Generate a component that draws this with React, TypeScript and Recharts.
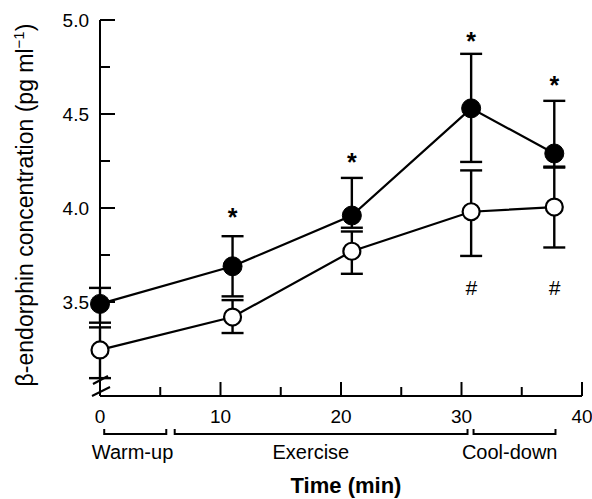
import React from "react";
import {
  ComposedChart,
  Line,
  XAxis,
  YAxis,
  ErrorBar,
  Scatter,
  Customized,
} from "recharts";

// sampling times (min) and the two groups
const times = [0, 11, 20.9, 30.8, 37.7];
const filledMean = [3.49, 3.69, 3.96, 4.53, 4.29];
const filledErr: [number, number][] = [
  [0.1, 0.085],
  [0.16, 0.16],
  [0.065, 0.2],
  [0.285, 0.29],
  [0.07, 0.28],
];
const openMean = [3.245, 3.42, 3.77, 3.98, 4.005];
const openErr: [number, number][] = [
  [0.15, 0.12],
  [0.085, 0.09],
  [0.12, 0.105],
  [0.235, 0.22],
  [0.215, 0.21],
];

// significance marks
const starTimes = [11, 20.9, 30.8, 37.7];
const starLevels = [3.98, 4.27, 4.915, 4.68];
const hashTimes = [30.8, 37.7];
const hashLevels = [3.58, 3.58];

const xTicks = [0, 5, 10, 15, 20, 25, 30, 35, 40];
const yTicks = [3.5, 3.75, 4.0, 4.25, 4.5, 4.75, 5.0];

const phases = [
  { label: "Warm-up", from: 0.35, to: 5.5, mid: 2.7 },
  { label: "Exercise", from: 6.2, to: 30.5, mid: 17.5 },
  { label: "Cool-down", from: 31.0, to: 37.8, mid: 34.0 },
];

const data = times.map((t, i) => ({
  t,
  filled: filledMean[i],
  filledErr: filledErr[i],
  open: openMean[i],
  openErr: openErr[i],
}));
const stars = starTimes.map((t, i) => ({ t, v: starLevels[i] }));
const hashes = hashTimes.map((t, i) => ({ t, v: hashLevels[i] }));

const W = 592;
const H = 499;
const LEFT = 100;
const RIGHT = 582;
const TOP = 20;
const BOTTOM = 396;
const FONT = "'Liberation Sans', Arial, Helvetica, sans-serif";

const xPx = (v: number) => LEFT + (v / 40) * (RIGHT - LEFT);

const XTick = (props: any) => {
  const { x, payload } = props;
  const major = payload.value % 10 === 0;
  return (
    <g>
      <line x1={x} x2={x} y1={BOTTOM} y2={BOTTOM - (major ? 14 : 9)} stroke="#000" strokeWidth={2} />
      {major && (
        <text x={x} y={BOTTOM + 27} textAnchor="middle" fontSize={19} fontFamily={FONT} fill="#000">
          {payload.value}
        </text>
      )}
    </g>
  );
};

const YTick = (props: any) => {
  const { y, payload } = props;
  const major = Math.abs(payload.value * 2 - Math.round(payload.value * 2)) < 1e-6;
  return (
    <g>
      <line x1={LEFT} x2={LEFT + (major ? 15 : 10)} y1={y} y2={y} stroke="#000" strokeWidth={2} />
      {major && (
        <text x={LEFT - 11} y={y + 7} textAnchor="end" fontSize={19} fontFamily={FONT} fill="#000">
          {payload.value.toFixed(1)}
        </text>
      )}
    </g>
  );
};

const FilledDot = (props: any) => {
  const { cx, cy } = props;
  return <circle cx={cx} cy={cy} r={9.5} fill="#000" stroke="#000" />;
};

const OpenDot = (props: any) => {
  const { cx, cy } = props;
  return <circle cx={cx} cy={cy} r={8.5} fill="#fff" stroke="#000" strokeWidth={2.2} />;
};

const Star = (props: any) => (
  <text x={props.cx} y={props.cy + 14} textAnchor="middle" fontSize={25} fontWeight="bold" fontFamily={FONT} fill="#000">
    *
  </text>
);

const Hash = (props: any) => (
  <text x={props.cx} y={props.cy + 8} textAnchor="middle" fontSize={21} fontStyle="italic" fontFamily={FONT} fill="#000">
    #
  </text>
);

const Overlay = () => (
  <g>
    {/* axis break */}
    <line x1={93} y1={384} x2={108} y2={376} stroke="#000" strokeWidth={2} />
    <line x1={92} y1={396} x2={110} y2={387} stroke="#000" strokeWidth={2} />
    {phases.map((p) => (
      <g key={p.label}>
        <path
          d={`M${xPx(p.from)},429 L${xPx(p.from)},434 L${xPx(p.to)},434 L${xPx(p.to)},429`}
          fill="none"
          stroke="#000"
          strokeWidth={2}
        />
        <text x={xPx(p.mid)} y={459} textAnchor="middle" fontSize={20} fontFamily={FONT} fill="#000">
          {p.label}
        </text>
      </g>
    ))}
    <text x={346} y={493} textAnchor="middle" fontSize={22} fontWeight="bold" fontFamily={FONT} fill="#000">
      Time (min)
    </text>
    <text
      x={33}
      y={205}
      transform="rotate(-90, 33, 205)"
      textAnchor="middle"
      fontSize={23}
      fontFamily={FONT}
      fill="#000"
    >
      β-endorphin concentration (pg ml
      <tspan dy={-9} fontSize={15}>−1</tspan>
      <tspan dy={9}>)</tspan>
    </text>
  </g>
);

export default function App() {
  return (
    <div style={{ position: "absolute", left: 0, top: 0, background: "#fff" }}>
      <ComposedChart
        width={W}
        height={H}
        data={data}
        margin={{ top: TOP, right: W - RIGHT, bottom: H - BOTTOM - 30, left: LEFT - 60 }}
      >
        <XAxis
          type="number"
          dataKey="t"
          domain={[0, 40]}
          ticks={xTicks}
          interval={0}
          height={30}
          tickLine={false}
          axisLine={{ stroke: "#000", strokeWidth: 2 }}
          tick={<XTick />}
        />
        <YAxis
          type="number"
          domain={[3, 5]}
          ticks={yTicks}
          interval={0}
          width={60}
          tickLine={false}
          axisLine={{ stroke: "#000", strokeWidth: 2 }}
          tick={<YTick />}
        />
        <Line
          dataKey="filled"
          stroke="#000"
          strokeWidth={2.2}
          dot={<FilledDot />}
          activeDot={false}
          isAnimationActive={false}
        >
          <ErrorBar dataKey="filledErr" width={11} strokeWidth={2.4} stroke="#000" direction="y" />
        </Line>
        <Line
          dataKey="open"
          stroke="#000"
          strokeWidth={2.2}
          dot={<OpenDot />}
          activeDot={false}
          isAnimationActive={false}
        >
          <ErrorBar dataKey="openErr" width={11} strokeWidth={2.4} stroke="#000" direction="y" />
        </Line>
        <Scatter data={stars} dataKey="v" shape={<Star />} isAnimationActive={false} />
        <Scatter data={hashes} dataKey="v" shape={<Hash />} isAnimationActive={false} />
        <Customized component={<Overlay />} />
      </ComposedChart>
    </div>
  );
}
